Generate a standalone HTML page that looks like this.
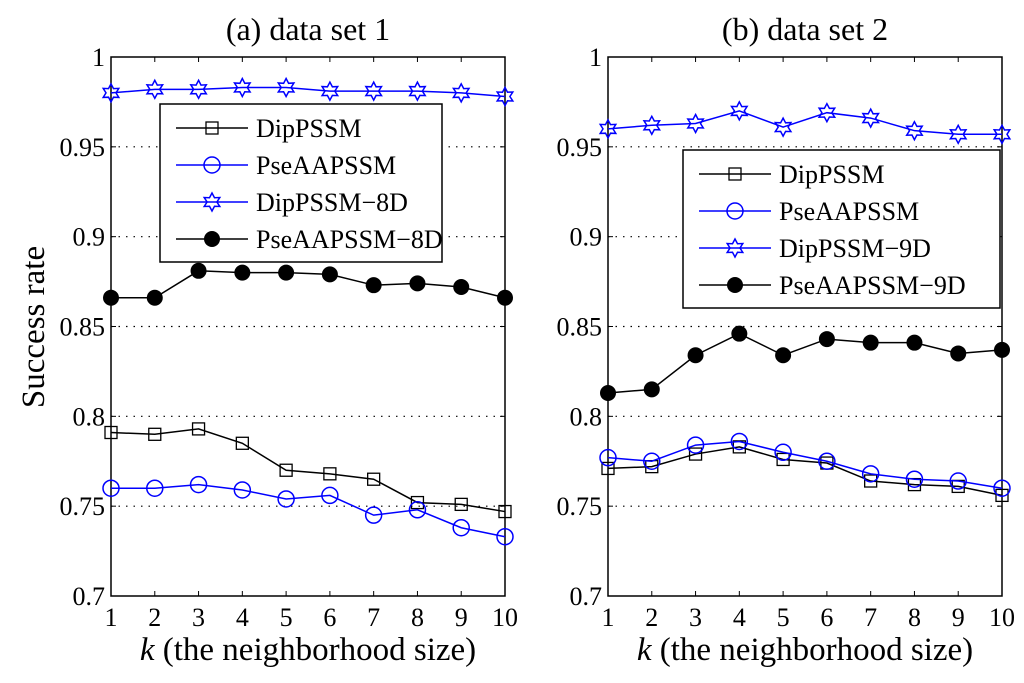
<!DOCTYPE html>
<html><head><meta charset="utf-8"><style>body{margin:0;background:#fff}text{font-family:"Liberation Serif","DejaVu Serif","Noto Serif CJK SC",serif}</style></head>
<body>
<svg id="c" width="1024" height="678" xmlns="http://www.w3.org/2000/svg"></svg>
<script>
const kValues=[1,2,3,4,5,6,7,8,9,10];
const yTicks=[0.7,0.75,0.8,0.85,0.9,0.95,1];
const yTickLabels=["0.7","0.75","0.8","0.85","0.9","0.95","1"];
const a_dip=[0.791,0.790,0.793,0.785,0.770,0.768,0.765,0.752,0.751,0.747];
const a_pse=[0.760,0.760,0.762,0.759,0.754,0.756,0.745,0.748,0.738,0.733];
const a_dipD=[0.980,0.982,0.982,0.983,0.983,0.981,0.981,0.981,0.980,0.978];
const a_pseD=[0.866,0.866,0.881,0.880,0.880,0.879,0.873,0.874,0.872,0.866];
const b_dip=[0.771,0.772,0.779,0.783,0.776,0.774,0.764,0.762,0.761,0.756];
const b_pse=[0.777,0.775,0.784,0.786,0.780,0.775,0.768,0.765,0.764,0.760];
const b_dipD=[0.960,0.962,0.963,0.970,0.961,0.969,0.966,0.959,0.957,0.957];
const b_pseD=[0.813,0.815,0.834,0.846,0.834,0.843,0.841,0.841,0.835,0.837];
const svg=document.getElementById('c');const NS='http://www.w3.org/2000/svg';
function mk(t,at,p){const e=document.createElementNS(NS,t);for(const k in at)e.setAttribute(k,at[k]);(p||svg).appendChild(e);return e;}
const Y0=596,Y1=57;
function star(x,y,r){let p=[];for(let i=0;i<12;i++){const rr=i%2?r*0.55:r;const a=Math.PI/6*i-Math.PI/2;p.push((x+rr*Math.cos(a)).toFixed(1)+','+(y+rr*Math.sin(a)).toFixed(1));}return p.join(' ');}
function marker(g,type,x,y,col){
 if(type==='sq'){const m=mk('rect',{x:x-6,y:y-6,width:12,height:12,fill:'none',stroke:col,'stroke-width':1.3},g);}
 else if(type==='ci'){const m=mk('circle',{cx:x,cy:y,r:8,fill:'none',stroke:col,'stroke-width':1.5},g);}
 else if(type==='st'){const m=mk('polygon',{points:star(x,y,9),fill:'none',stroke:col,'stroke-width':1.5},g);}
 else {const m=mk('circle',{cx:x,cy:y,r:8,fill:col},g);}
}
function panel(name,X0,X1,title,series,legendNames,lx,ly,lw){
 const g=mk('g',{});
 const xs=k=>X0+(k-1)*(X1-X0)/9;const ys=v=>Y0+(v-0.7)*(Y1-Y0)/0.3;
 yTicks.forEach((t,i)=>{const y=ys(t);
  if(i>0&&i<yTicks.length-1){const gl=mk('line',{x1:X0,x2:X1,y1:y,y2:y,stroke:'#000','stroke-width':1.2,'stroke-dasharray':'1.5 6'},g);}
  mk('line',{x1:X0,x2:X0+5,y1:y,y2:y,stroke:'#000'},g);mk('line',{x1:X1,x2:X1-5,y1:y,y2:y,stroke:'#000'},g);
  const tl=mk('text',{x:X0-6,y:y+9,'font-size':26,'text-anchor':'end'},g);tl.textContent=yTickLabels[i];});
 kValues.forEach(k=>{const x=xs(k);mk('line',{x1:x,x2:x,y1:Y0,y2:Y0-5,stroke:'#000'},g);mk('line',{x1:x,x2:x,y1:Y1,y2:Y1+5,stroke:'#000'},g);
  const tl=mk('text',{x:x,y:Y0+30,'font-size':26,'text-anchor':'middle'},g);tl.textContent=k;});
 const fr=mk('rect',{x:X0,y:Y1,width:X1-X0,height:Y0-Y1,fill:'none',stroke:'#000','stroke-width':1.5},g);
 const tt=mk('text',{x:(X0+X1)/2,y:40,'font-size':32,'text-anchor':'middle'},g);tt.textContent=title;
 const xl=mk('text',{x:(X0+X1)/2,y:660,'font-size':33,'text-anchor':'middle'},g);xl.innerHTML='<tspan font-style="italic">k</tspan> (the neighborhood size)';
 const styles=[['sq','#000'],['ci','#00f'],['st','#00f'],['dot','#000']];
 series.forEach((s,i)=>{const [m,c]=styles[i];const sg=mk('g',{},g);
  mk('polyline',{points:s.map((v,j)=>xs(kValues[j])+','+ys(v)).join(' '),fill:'none',stroke:c,'stroke-width':1.5},sg);
  s.forEach((v,j)=>marker(sg,m,xs(kValues[j]),ys(v),c));});
 const lg=mk('g',{},g);
 mk('rect',{x:lx,y:ly,width:lw,height:158,fill:'#fff',stroke:'#000','stroke-width':1.5},lg);
 legendNames.forEach((n,i)=>{const y=ly+24+i*37;const [m,c]=styles[i];
  const e=mk('g',{},lg);
  mk('line',{x1:lx+16,x2:lx+88,y1:y,y2:y,stroke:c,'stroke-width':1.5},e);marker(e,m,lx+52,y,c);
  const t=mk('text',{x:lx+96,y:y+9,'font-size':26},e);t.textContent=n;});
}
panel('panel-a',111,505,'(a) data set 1',[a_dip,a_pse,a_dipD,a_pseD],['DipPSSM','PseAAPSSM','DipPSSM\u22128D','PseAAPSSM\u22128D'],160,104,282);
panel('panel-b',608,1002,'(b) data set 2',[b_dip,b_pse,b_dipD,b_pseD],['DipPSSM','PseAAPSSM','DipPSSM\u22129D','PseAAPSSM\u22129D'],683,150,317);
const yl=mk('text',{x:0,y:0,'font-size':33,'text-anchor':'middle',transform:'translate(44,327) rotate(-90)'});yl.textContent='Success rate';


</script>
</body></html>
